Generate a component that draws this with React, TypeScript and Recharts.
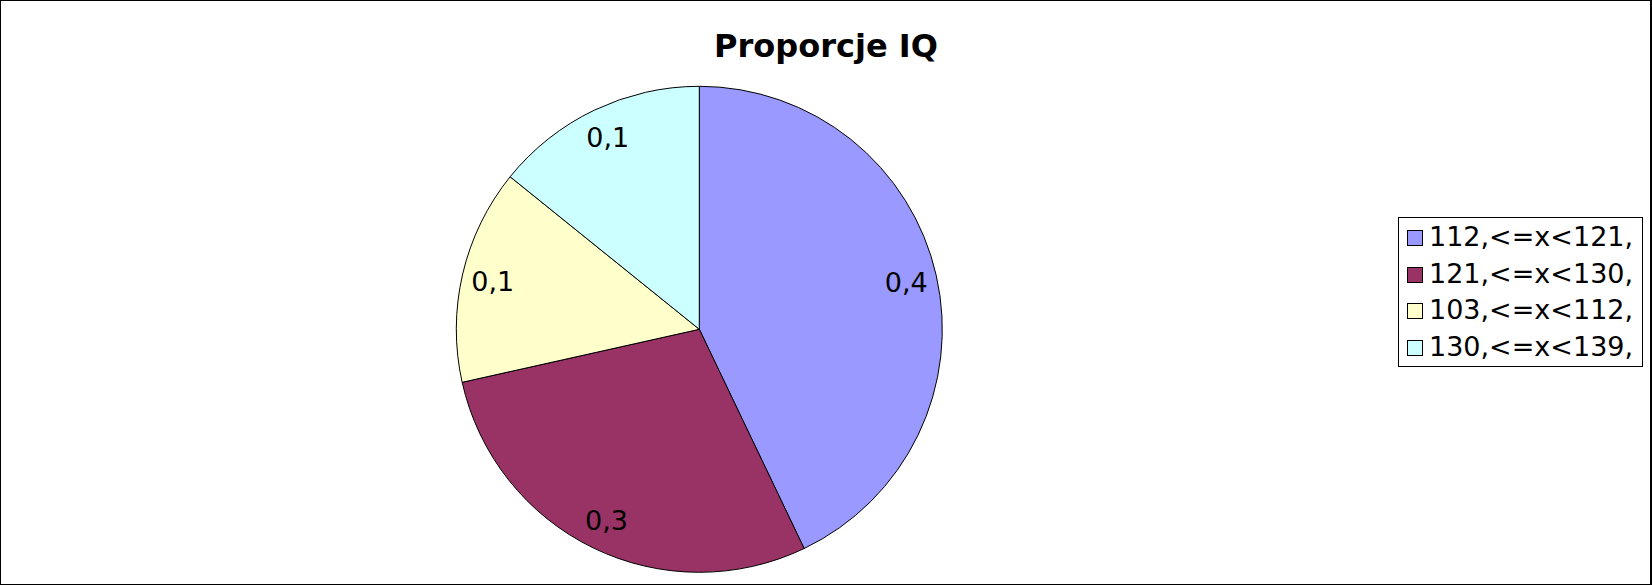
import { PieChart, Pie, Cell, Legend } from 'recharts';

const categories = ['112,<=x<121,', '121,<=x<130,', '103,<=x<112,', '130,<=x<139,'];
const proportions = [0.429, 0.286, 0.143, 0.142];
const colors = ['#9999FF', '#993366', '#FFFFCC', '#CCFFFF'];

const chartData = categories.map((name, i) => ({ name, value: proportions[i] }));

const FONT = '"DejaVu Sans", Verdana, sans-serif';
const RADIAN = Math.PI / 180;

const renderLabel = (props: any) => {
  const { cx, cy, midAngle, outerRadius, value } = props;
  const r = outerRadius * 0.873;
  const x = cx + r * Math.cos(-midAngle * RADIAN);
  const y = cy + r * Math.sin(-midAngle * RADIAN);
  return (
    <text
      x={x}
      y={y}
      fill="#000"
      fontSize={27}
      fontFamily={FONT}
      textAnchor="middle"
      dominantBaseline="central"
    >
      {value.toFixed(1).replace('.', ',')}
    </text>
  );
};

// keep the legend in data order (recharts sorts it by default)
const renderLegend = (props: any) => {
  const payload = [...(props.payload || [])].sort(
    (a: any, b: any) => categories.indexOf(a.value) - categories.indexOf(b.value)
  );
  return (
    <div
      style={{
        boxSizing: 'border-box',
        width: 245,
        height: 150,
        border: '1px solid #000',
        background: '#fff',
        paddingLeft: 8,
        paddingTop: 1,
        fontFamily: FONT,
        fontSize: 27,
        color: '#000',
      }}
    >
      {payload.map((entry: any, i: number) => (
        <div key={i} style={{ display: 'flex', alignItems: 'flex-start', height: 36.67 }}>
          <div
            style={{
              boxSizing: 'border-box',
              flex: 'none',
              width: 16,
              height: 16,
              marginTop: 11,
              border: '1px solid #000',
              background: entry.color,
            }}
          />
          <span style={{ marginLeft: 6, lineHeight: '36.67px', whiteSpace: 'nowrap' }}>
            {entry.value}
          </span>
        </div>
      ))}
    </div>
  );
};

export default function App() {
  return (
    <div
      style={{
        position: 'absolute',
        left: 0,
        top: 0,
        width: 1652,
        height: 585,
        background: '#fff',
      }}
    >
      <div
        style={{
          position: 'absolute',
          left: 0,
          top: 26.2,
          width: 1652,
          textAlign: 'center',
          fontFamily: FONT,
          fontWeight: 'bold',
          fontSize: 32,
          lineHeight: '40px',
          color: '#000',
        }}
      >
        Proporcje IQ
      </div>
      <PieChart width={1652} height={585} margin={{ top: 0, right: 0, bottom: 0, left: 0 }}>
        <Pie
          data={chartData}
          dataKey="value"
          nameKey="name"
          cx={699.3}
          cy={329.3}
          outerRadius={243}
          startAngle={90}
          endAngle={-270}
          stroke="#000"
          strokeWidth={1}
          label={renderLabel}
          labelLine={false}
          isAnimationActive={false}
        >
          {chartData.map((entry, i) => (
            <Cell key={entry.name} fill={colors[i]} />
          ))}
        </Pie>
        <Legend
          layout="vertical"
          align="right"
          verticalAlign="top"
          wrapperStyle={{ left: 1398, top: 217, width: 245, height: 150 }}
          content={renderLegend}
        />
      </PieChart>
      <div
        style={{
          position: 'absolute',
          left: 0,
          top: 0,
          width: 1652,
          height: 585,
          boxSizing: 'border-box',
          borderTop: '1px solid #000',
          borderLeft: '1px solid #000',
          borderBottom: '1px solid #000',
          borderRight: '2px solid #000',
          pointerEvents: 'none',
        }}
      />
    </div>
  );
}
